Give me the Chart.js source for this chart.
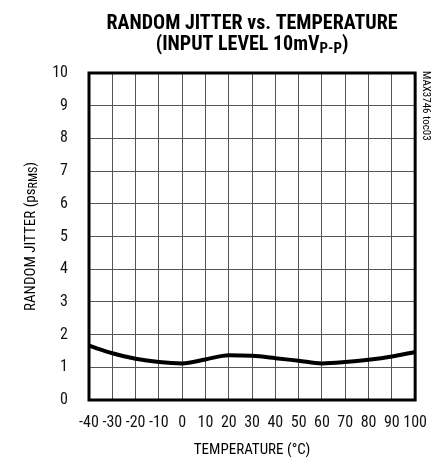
<!DOCTYPE html>
<html>
<head>
<meta charset="utf-8">
<script src="https://cdn.jsdelivr.net/npm/chart.js@4/dist/chart.umd.min.js"></script>
<style>
  html, body { margin: 0; padding: 0; background: #fff; }
  #wrap { width: 440px; height: 458px; }
</style>
</head>
<body>
<div id="wrap"><canvas id="jitterChart" width="440" height="458"></canvas></div>
<script>
const temps = [-40, -30, -20, -10, 0, 10, 20, 30, 40, 50, 60, 70, 80, 90, 100];
const jitter = [1.66, 1.43, 1.26, 1.16, 1.12, 1.24, 1.37, 1.35, 1.28, 1.2, 1.12, 1.16, 1.23, 1.33, 1.47];
const xTicks = { min: -40, max: 100, step: 10 };
const yTicks = { min: 0, max: 10, step: 1 };

const narrow = '"Liberation Sans Narrow", "Roboto Condensed", "DejaVu Sans Condensed", sans-serif';

// titles, axis labels with subscripts, frame
const decorations = {
    id: 'decorations',
    afterDraw(chart) {
        const ctx = chart.ctx;
        const a = chart.chartArea;
        const cx = (a.left + a.right) / 2;
        ctx.save();
        ctx.fillStyle = '#000';
        ctx.textBaseline = 'alphabetic';

        // title line 1
        ctx.font = 'bold 20px ' + narrow;
        ctx.textAlign = 'center';
        ctx.fillText('RANDOM JITTER vs. TEMPERATURE', cx, 29);

        // title line 2 with subscript
        const t1 = '(INPUT LEVEL 10mV';
        const sub = 'P-P';
        const t2 = ')';
        ctx.font = 'bold 20px ' + narrow;
        const w1 = ctx.measureText(t1).width;
        const w3 = ctx.measureText(t2).width;
        ctx.font = 'bold 15px ' + narrow;
        const w2 = ctx.measureText(sub).width;
        let x = cx - (w1 + w2 + w3) / 2;
        ctx.textAlign = 'left';
        ctx.font = 'bold 20px ' + narrow;
        ctx.fillText(t1, x, 50);
        x += w1;
        ctx.font = 'bold 15px ' + narrow;
        ctx.fillText(sub, x, 53);
        x += w2;
        ctx.font = 'bold 20px ' + narrow;
        ctx.fillText(t2, x, 50);

        // x axis title
        ctx.font = '15px ' + narrow;
        ctx.textAlign = 'center';
        ctx.fillText('TEMPERATURE (\u00B0C)', cx, 454);

        // y axis title rotated
        ctx.save();
        ctx.translate(35, (a.top + a.bottom) / 2);
        ctx.rotate(-Math.PI / 2);
        const y1 = 'RANDOM JITTER (ps';
        const ys = 'RMS';
        const y3 = ')';
        ctx.font = '15px ' + narrow;
        const a1 = ctx.measureText(y1).width;
        const a3 = ctx.measureText(y3).width;
        ctx.font = '12px ' + narrow;
        const a2 = ctx.measureText(ys).width;
        let p = -(a1 + a2 + a3) / 2;
        ctx.textAlign = 'left';
        ctx.font = '15px ' + narrow;
        ctx.fillText(y1, p, 0);
        p += a1;
        ctx.font = '12px ' + narrow;
        ctx.fillText(ys, p, 2);
        p += a2;
        ctx.font = '15px ' + narrow;
        ctx.fillText(y3, p, 0);
        ctx.restore();

        // part number note
        ctx.save();
        ctx.translate(a.right + 8, a.top - 2);
        ctx.rotate(Math.PI / 2);
        ctx.font = '11px ' + narrow;
        ctx.textAlign = 'left';
        ctx.fillText('MAX3746 toc03', 0, 0);
        ctx.restore();

        // frame
        ctx.strokeStyle = '#000';
        ctx.lineWidth = 3;
        ctx.strokeRect(a.left, a.top, a.right - a.left, a.bottom - a.top);
        ctx.restore();
    }
};

const ctx = document.getElementById('jitterChart').getContext('2d');
const jitterChart = new Chart(ctx, {
    type: 'line',
    data: {
        datasets: [{
            data: temps.map((t, i) => ({ x: t, y: jitter[i] })),
            borderColor: '#000',
            borderWidth: 4,
            pointRadius: 0,
            cubicInterpolationMode: 'monotone',
            tension: 0.4,
            fill: false
        }]
    },
    options: {
        responsive: false,
        animation: false,
        devicePixelRatio: 1,
        layout: { padding: { left: 0, right: 24, top: 73, bottom: 0 } },
        plugins: {
            legend: { display: false },
            tooltip: { enabled: false }
        },
        scales: {
            x: {
                type: 'linear',
                min: xTicks.min,
                max: xTicks.max,
                afterFit: s => { s.height = 58; },
                ticks: {
                    stepSize: xTicks.step,
                    color: '#111',
                    font: { family: narrow, size: 16 },
                    maxRotation: 0,
                    autoSkip: false,
                    padding: 13
                },
                grid: { color: '#555', lineWidth: 1, drawTicks: false },
                border: { display: false }
            },
            y: {
                min: yTicks.min,
                max: yTicks.max,
                afterFit: s => { s.width = 89; },
                ticks: {
                    stepSize: yTicks.step,
                    color: '#111',
                    font: { family: narrow, size: 16 },
                    padding: 21
                },
                grid: { color: '#555', lineWidth: 1, drawTicks: false },
                border: { display: false }
            }
        }
    },
    plugins: [decorations]
});
</script>
</body>
</html>
